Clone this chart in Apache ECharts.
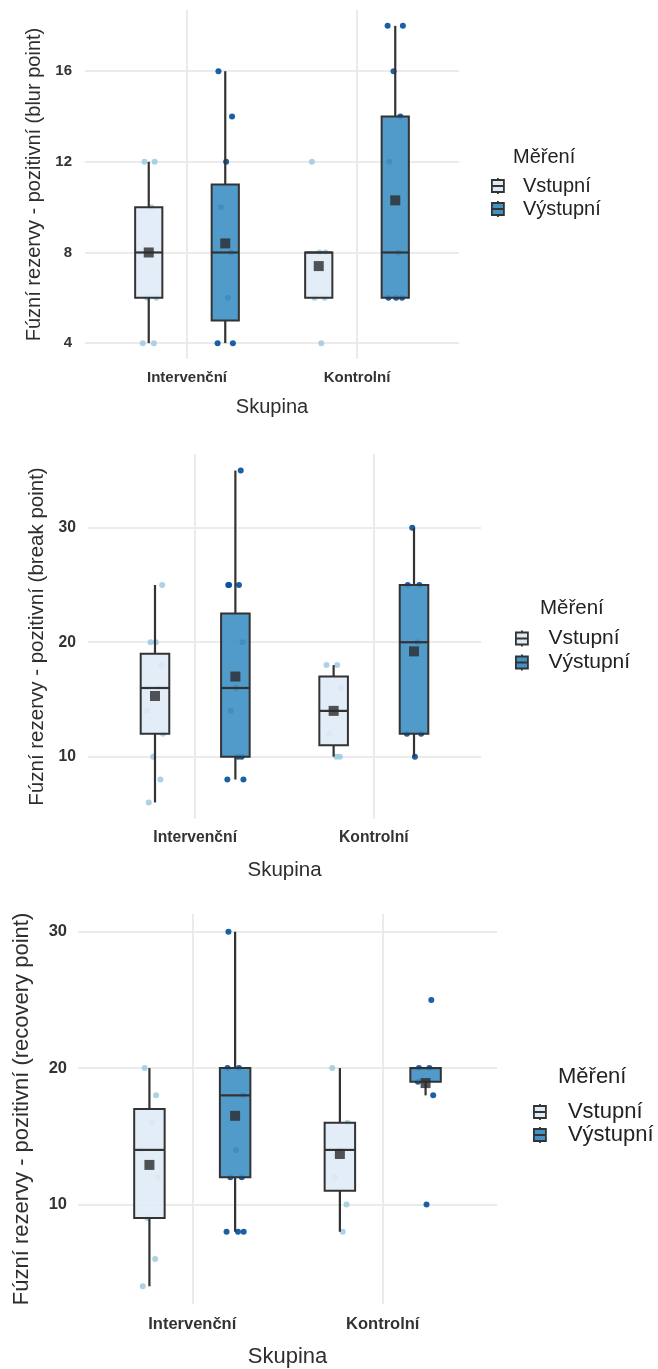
<!DOCTYPE html>
<html>
<head>
<meta charset="utf-8">
<title>Fúzní rezervy - pozitivní</title>
<script src="https://cdn.jsdelivr.net/npm/echarts@6/dist/echarts.min.js"></script>
<style>
  html, body { margin: 0; padding: 0; background: #ffffff; }
  #chart { width: 658px; height: 1369px; }
</style>
</head>
<body>
<div id="chart"></div>
<script>
// Groups on the x axis and measurement levels (legend)
const groups = ['Intervenční', 'Kontrolní'];
const measures = ['Vstupní', 'Výstupní'];
const xTitle = 'Skupina';
const legendTitle = 'Měření';

// ---- blur point ----
const blurTitle = 'Fúzní rezervy - pozitivní (blur point)';
const blurTicks = [4, 8, 12, 16];
// box stats per group: [lower whisker, Q1, median, Q3, upper whisker]
const blurBoxVst = [[4, 6, 8, 10, 12], [6, 6, 8, 8, 8]];
const blurBoxVys = [[4, 5, 8, 11, 16], [6, 6, 8, 14, 18]];
const blurMeanVst = [8.0, 7.4];
const blurMeanVys = [8.4, 10.3];
const blurPtsVst = [[4, 4, 6, 6, 8, 10, 12, 12], [4, 6, 6, 8, 8, 12]];
const blurPtsVys = [[4, 4, 6, 8, 10, 12, 14, 16], [6, 6, 6, 8, 12, 14, 16, 18, 18]];

// ---- break point ----
const breakTitle = 'Fúzní rezervy - pozitivní (break point)';
const breakTicks = [10, 20, 30];
const breakBoxVst = [[6, 12, 16, 19, 25], [10, 11, 14, 17, 18]];
const breakBoxVys = [[8, 10, 16, 22.5, 35], [10, 12, 20, 25, 30]];
const breakMeanVst = [15.3, 14.0];
const breakMeanVys = [17.0, 19.2];
const breakPtsVst = [[6, 8, 10, 12, 14, 16, 18, 20, 20, 25], [10, 10, 12, 14, 16, 18, 18]];
const breakPtsVys = [[8, 8, 10, 10, 14, 16, 20, 25, 25, 25, 35], [10, 12, 12, 20, 25, 25, 30]];

// ---- recovery point ----
const recTitle = 'Fúzní rezervy - pozitivní (recovery point)';
const recTicks = [10, 20, 30];
const recBoxVst = [[4, 9, 14, 17, 20], [8, 11, 14, 16, 20]];
const recBoxVys = [[8, 12, 18, 20, 30], [18, 19, 20, 20, 20]];
const recMeanVst = [12.9, 13.7];
const recMeanVys = [16.5, 18.9];
const recPtsVst = [[4, 6, 9, 12, 14, 16, 18, 20], [8, 10, 12, 14, 16, 20]];
const recPtsVys = [[8, 8, 8, 12, 12, 14, 18, 20, 20, 30], [10, 18, 19, 20, 20, 25]];

// ---- styling / layout ----
const FONT = '"Liberation Sans", Arial, sans-serif';
const FILL = { 'Vstupní': 'rgba(222,235,247,0.88)', 'Výstupní': 'rgba(66,146,198,0.92)' };
const KEY_FILL = { 'Vstupní': '#deebf7', 'Výstupní': '#4292c6' };
const POINT = { 'Vstupní': '#9ecae1', 'Výstupní': '#08519c' };
const DODGE = 0.225;      // half distance between the two boxes of a group
const HALF_W = 0.08;      // half box width (x units)
const JITTER = [-0.035, 0.03, -0.01, 0.045, -0.045, 0.015, 0.035, -0.025, 0.005, 0.04, -0.04, 0.02];
const KEY_PATH = 'path://M6,0 L6,2 M0,2 L12,2 L12,14 L0,14 Z M0,8 L12,8 M6,14 L6,16';

const panels = [
  { title: blurTitle, ticks: blurTicks, box: [blurBoxVst, blurBoxVys], mean: [blurMeanVst, blurMeanVys], pts: [blurPtsVst, blurPtsVys],
    grid: { left: 85, top: 10, width: 374, height: 349 }, tick: 15, name: 20, yGap: 40, xGap: 38, yMargin: 13, xMargin: 11.5,
    leg: { left: 491, top: 176, gap: 3, font: 20, pad: 14, w: 12 }, legTitle: { left: 513, top: 147, font: 20 } },
  { title: breakTitle, ticks: breakTicks, box: [breakBoxVst, breakBoxVys], mean: [breakMeanVst, breakMeanVys], pts: [breakPtsVst, breakPtsVys],
    grid: { left: 88, top: 454, width: 393, height: 365 }, tick: 15.7, name: 20.5, yGap: 40.5, xGap: 41, yMargin: 12, xMargin: 11,
    leg: { left: 515, top: 628, gap: 3, font: 21, pad: 15, w: 13 }, legTitle: { left: 540, top: 598, font: 20.5 } },
  { title: recTitle, ticks: recTicks, box: [recBoxVst, recBoxVys], mean: [recMeanVst, recMeanVys], pts: [recPtsVst, recPtsVys],
    grid: { left: 78, top: 914, width: 419, height: 390 }, tick: 16.5, name: 22, yGap: 45, xGap: 42, yMargin: 11, xMargin: 11.5,
    leg: { left: 533, top: 1101, gap: 1, font: 22, pad: 16, w: 14 }, legTitle: { left: 558, top: 1066, font: 22 } }
];

function renderBox(params, api) {
  const x = api.value(0);
  const lo = api.value(1), q1 = api.value(2), md = api.value(3), q3 = api.value(4), hi = api.value(5);
  const tl = api.coord([x - HALF_W, q3]);
  const br = api.coord([x + HALF_W, q1]);
  const c = api.coord([x, md]);
  const yLo = api.coord([x, lo])[1];
  const yHi = api.coord([x, hi])[1];
  const stroke = { stroke: '#333333', lineWidth: 2.2 };
  return {
    type: 'group',
    children: [
      { type: 'line', shape: { x1: c[0], y1: br[1], x2: c[0], y2: yLo }, style: stroke },
      { type: 'line', shape: { x1: c[0], y1: tl[1], x2: c[0], y2: yHi }, style: stroke },
      { type: 'rect', shape: { x: tl[0], y: tl[1], width: br[0] - tl[0], height: br[1] - tl[1] },
        style: { fill: api.visual('color'), stroke: '#333333', lineWidth: 2 } },
      { type: 'line', shape: { x1: tl[0], y1: c[1], x2: br[0], y2: c[1] }, style: { stroke: '#333333', lineWidth: 2.2 } }
    ]
  };
}

const option = {
  backgroundColor: '#ffffff',
  animation: false,
  textStyle: { fontFamily: FONT },
  grid: [], xAxis: [], yAxis: [], series: [], legend: [], title: []
};

panels.forEach((p, pi) => {
  // y range: data range expanded by 5% on each side
  let all = [];
  p.box.forEach(b => b.forEach(r => all = all.concat(r)));
  p.pts.forEach(s => s.forEach(r => all = all.concat(r)));
  const vmin = Math.min(...all), vmax = Math.max(...all);
  const pad = (vmax - vmin) * 0.05;

  option.grid.push(Object.assign({ containLabel: false }, p.grid));
  option.xAxis.push({
    type: 'value', gridIndex: pi, min: 0.4, max: 2.6,
    name: xTitle, nameLocation: 'middle', nameGap: p.xGap,
    nameTextStyle: { fontSize: p.name, color: '#2e2e2e', fontFamily: FONT },
    axisLine: { show: false },
    axisTick: { show: false, customValues: [1, 2] },
    axisLabel: { customValues: [1, 2], margin: p.xMargin, fontSize: p.tick, fontWeight: 'bold', color: '#333333', fontFamily: FONT,
      formatter: v => groups[Math.round(v) - 1] || '' },
    splitLine: { show: true, lineStyle: { color: '#ebebeb', width: 2 } }
  });
  option.yAxis.push({
    type: 'value', gridIndex: pi, min: vmin - pad, max: vmax + pad,
    name: p.title, nameLocation: 'middle', nameGap: p.yGap,
    nameTextStyle: { fontSize: p.name, color: '#2e2e2e', fontFamily: FONT },
    axisLine: { show: false },
    axisTick: { show: false, customValues: p.ticks },
    axisLabel: { customValues: p.ticks, margin: p.yMargin, fontSize: p.tick, fontWeight: 'bold', color: '#333333', fontFamily: FONT },
    splitLine: { show: true, lineStyle: { color: '#ebebeb', width: 2 } }
  });

  // jittered raw observations (drawn first, under the boxes)
  measures.forEach((m, mi) => {
    const data = [];
    p.pts[mi].forEach((vals, gi) => {
      const cx = gi + 1 + (mi === 0 ? -DODGE : DODGE);
      vals.forEach((v, k) => data.push([cx + JITTER[(k + gi * 5 + mi * 3) % JITTER.length], v]));
    });
    option.series.push({
      type: 'scatter', name: m + ' body', xAxisIndex: pi, yAxisIndex: pi, data,
      symbol: 'circle', symbolSize: 6, silent: true,
      itemStyle: { color: POINT[m], opacity: mi === 0 ? 0.85 : 0.92 }, z: 2
    });
  });

  // boxes
  measures.forEach((m, mi) => {
    const data = p.box[mi].map((r, gi) => [gi + 1 + (mi === 0 ? -DODGE : DODGE)].concat(r));
    option.series.push({
      type: 'custom', name: m, xAxisIndex: pi, yAxisIndex: pi, data,
      renderItem: renderBox, itemStyle: { color: FILL[m] },
      encode: { x: 0, y: [1, 2, 3, 4, 5] }, z: 3
    });
  });

  // group means
  measures.forEach((m, mi) => {
    const data = p.mean[mi].map((v, gi) => [gi + 1 + (mi === 0 ? -DODGE : DODGE), v]);
    option.series.push({
      type: 'scatter', name: m + ' průměr', xAxisIndex: pi, yAxisIndex: pi, data,
      symbol: 'rect', symbolSize: 10, silent: true,
      itemStyle: { color: '#2b2b2b' }, z: 4
    });
  });

  option.legend.push({
    orient: 'vertical', left: p.leg.left, top: p.leg.top, padding: 0,
    itemWidth: p.leg.w, itemHeight: 16, itemGap: p.leg.gap, selectedMode: false,
    textStyle: { fontSize: p.leg.font, color: '#222222', fontFamily: FONT, padding: [0, 0, 0, p.leg.pad] },
    data: measures.map(m => ({ name: m, icon: KEY_PATH,
      itemStyle: { color: KEY_FILL[m], borderColor: '#333333', borderWidth: 1.8 } }))
  });
  option.title.push({
    text: legendTitle, left: p.legTitle.left, top: p.legTitle.top, padding: 0,
    textStyle: { fontSize: p.legTitle.font, fontWeight: 'normal', color: '#222222', fontFamily: FONT }
  });
});

const chart = echarts.init(document.getElementById('chart'), null, { renderer: 'canvas' });
chart.setOption(option);
</script>
</body>
</html>
